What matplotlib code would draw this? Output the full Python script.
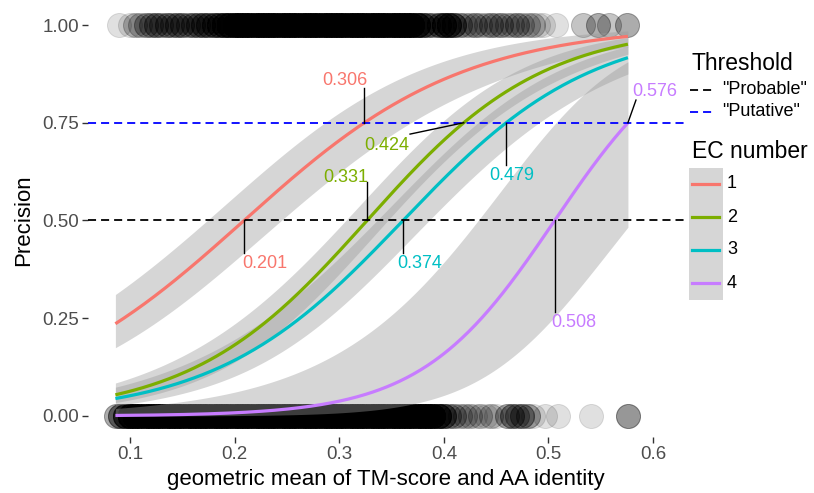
import numpy as np
import matplotlib
matplotlib.use("Agg")
import matplotlib.pyplot as plt
from matplotlib.lines import Line2D
from matplotlib.patches import Rectangle

plt.rcParams['font.family'] = ['Liberation Sans', 'DejaVu Sans']
plt.rcParams['lines.scale_dashes'] = False

# ---------------- data ----------------
ec_labels = ['1', '2', '3', '4']
ec_colors = ['#F8766D', '#7CAE00', '#00BFC4', '#C77CFF']
ec_x50 = [0.209, 0.3266, 0.361, 0.506]     # x where fitted precision = 0.50
ec_x75 = [0.324, 0.419, 0.4596, 0.576]     # x where fitted precision = 0.75
ec_se_min = [0.17, 0.12, 0.14, 0.55]       # logit-scale standard error (minimum)
ec_se_center = [0.20, 0.34, 0.36, 0.50]
ec_se_slope = [0.80, 0.83, 0.85, 3.00]
x_start = 0.086
x_end = 0.576

thresholds = [0.5, 0.75]
threshold_names = ['"Probable"', '"Putative"']
threshold_colors = ['black', 'blue']

# observations at precision 1 (x position, multiplicity)
top_pos = [0.089, 0.100, 0.105, 0.110, 0.115, 0.120, 0.125, 0.130, 0.135, 0.140,
           0.145, 0.150, 0.155, 0.160, 0.165, 0.170, 0.175, 0.180, 0.185, 0.190,
           0.195, 0.200, 0.205, 0.210, 0.215, 0.220, 0.225, 0.230, 0.235, 0.240,
           0.245, 0.250, 0.255, 0.260, 0.265, 0.270, 0.275, 0.280, 0.285, 0.290,
           0.295, 0.300, 0.305, 0.310, 0.315, 0.320, 0.325, 0.330, 0.335, 0.340,
           0.345, 0.350, 0.355, 0.360, 0.365, 0.370, 0.375, 0.380, 0.385, 0.390,
           0.395, 0.400, 0.405, 0.410, 0.415, 0.420, 0.425, 0.430, 0.435, 0.440,
           0.445, 0.450, 0.455, 0.460, 0.465, 0.470, 0.475, 0.480, 0.485, 0.490,
           0.495, 0.507, 0.533, 0.547, 0.558, 0.575]
top_cnt = [1, 1, 2, 2, 3, 3, 4, 3, 4, 3,
           4, 4, 3, 4, 4, 5, 5, 6, 6, 8,
           10, 12, 12, 12, 12, 12, 12, 12, 12, 12,
           12, 12, 12, 12, 12, 12, 12, 12, 12, 12,
           12, 12, 12, 12, 12, 12, 12, 12, 12, 12,
           12, 12, 12, 12, 12, 12, 10, 6, 4, 3,
           5, 8, 8, 6, 3, 2, 2, 3, 2, 2,
           3, 2, 3, 2, 2, 3, 2, 2, 2, 1,
           1, 1, 2, 3, 2, 3]

# observations at precision 0 (x position, multiplicity)
bot_pos = [0.087, 0.090, 0.095, 0.100, 0.105, 0.110, 0.115, 0.120, 0.125, 0.130,
           0.135, 0.140, 0.145, 0.150, 0.155, 0.160, 0.165, 0.170, 0.175, 0.180,
           0.185, 0.190, 0.195, 0.200, 0.205, 0.210, 0.215, 0.220, 0.225, 0.230,
           0.235, 0.240, 0.245, 0.250, 0.255, 0.260, 0.265, 0.270, 0.275, 0.280,
           0.285, 0.290, 0.295, 0.300, 0.305, 0.310, 0.315, 0.320, 0.325, 0.330,
           0.335, 0.340, 0.345, 0.350, 0.355, 0.360, 0.365, 0.370, 0.375, 0.380,
           0.385, 0.390, 0.395, 0.400, 0.405, 0.410, 0.415, 0.420, 0.425, 0.430,
           0.435, 0.440, 0.445, 0.450, 0.460, 0.465, 0.470, 0.475, 0.480, 0.485,
           0.497, 0.509, 0.541, 0.576]
bot_cnt = [3, 5, 8, 12, 12, 12, 12, 12, 12, 12,
           12, 12, 12, 12, 12, 12, 12, 12, 12, 12,
           12, 12, 12, 12, 12, 12, 12, 12, 12, 12,
           12, 12, 12, 12, 12, 12, 12, 12, 12, 12,
           12, 12, 12, 12, 12, 12, 12, 12, 12, 12,
           12, 12, 12, 12, 12, 12, 12, 12, 12, 12,
           12, 12, 10, 6, 3, 3, 2, 2, 2, 1,
           2, 1, 2, 1, 3, 4, 3, 4, 3, 1,
           1, 1, 1, 4]

# annotation labels
lab_text = ['0.201', '0.306', '0.331', '0.424', '0.374', '0.479', '0.508', '0.576']
lab_ec = [0, 0, 1, 1, 2, 2, 3, 3]
lab_level = [0.5, 0.75, 0.5, 0.75, 0.5, 0.75, 0.5, 0.75]
lab_x = [0.229, 0.3055, 0.3065, 0.3457, 0.377, 0.465, 0.5245, 0.602]
lab_y = [0.389, 0.859, 0.609, 0.693, 0.391, 0.616, 0.238, 0.829]
seg_end_x = [0.209, 0.324, 0.3266, 0.3677, 0.361, 0.4596, 0.506, 0.5837]
seg_end_y = [0.417, 0.839, 0.598, 0.721, 0.417, 0.642, 0.266, 0.808]

# ---------------- figure ----------------
W, H = 814, 493
fig = plt.figure(figsize=(W / 100, H / 100), dpi=100)
ax_l, ax_r, ax_t, ax_b = 88.2, 684.4, 3.9, 437.1
ax = fig.add_axes([ax_l / W, 1 - ax_b / H, (ax_r - ax_l) / W, (ax_b - ax_t) / H])
ax.set_xlim(0.06, 0.63)
ax.set_ylim(-0.054, 1.054)

# points
alpha_pt = 0.12
for pos, cnt, yv in ((top_pos, top_cnt, 1.0), (bot_pos, bot_cnt, 0.0)):
    xs = np.repeat(pos, cnt)
    ax.scatter(xs, np.full(len(xs), yv), s=300, facecolor=(0, 0, 0, alpha_pt),
               edgecolor=(0, 0, 0, alpha_pt), linewidth=0.7, zorder=1)

# fitted logistic curves with confidence bands
xx = np.linspace(x_start, x_end, 300)
def expit(z):
    return 1 / (1 + np.exp(-z))
curves = []
for i in range(4):
    b = np.log(3) / (ec_x75[i] - ec_x50[i])
    eta = b * (xx - ec_x50[i])
    se = np.sqrt(ec_se_min[i] ** 2 + ec_se_slope[i] ** 2 * (xx - ec_se_center[i]) ** 2)
    ax.fill_between(xx, expit(eta - 1.96 * se), expit(eta + 1.96 * se),
                    color='#999999', alpha=0.4, linewidth=0, zorder=2)
    curves.append(expit(eta))
for i in range(4):
    ax.plot(xx, curves[i], color=ec_colors[i], lw=2.3, zorder=3, solid_capstyle='butt')

# thresholds
for t, c in zip(thresholds, threshold_colors):
    ax.axhline(t, color=c, lw=1.3, dashes=(5.8, 3.6), zorder=4)

# annotations
for i in range(len(lab_text)):
    e = lab_ec[i]
    x0 = ec_x50[e] if lab_level[i] == 0.5 else ec_x75[e]
    ax.plot([x0, seg_end_x[i]], [lab_level[i], seg_end_y[i]], color='black', lw=1.0, zorder=5)
    ax.text(lab_x[i], lab_y[i], lab_text[i], color=ec_colors[e], fontsize=13,
            ha='center', va='center', zorder=6, clip_on=False)

# axes styling
for s in ax.spines.values():
    s.set_visible(False)
ax.set_xticks([0.1, 0.2, 0.3, 0.4, 0.5, 0.6])
ax.set_xticklabels(['0.1', '0.2', '0.3', '0.4', '0.5', '0.6'])
ax.set_yticks([0.0, 0.25, 0.5, 0.75, 1.0])
ax.set_yticklabels(['0.00', '0.25', '0.50', '0.75', '1.00'])
ax.tick_params(axis='both', length=4, width=1.0, color='#333333', labelcolor='#4D4D4D',
               labelsize=13.5, pad=2.5)
ax.set_xlabel('geometric mean of TM-score and AA identity', fontsize=16, labelpad=4)
ax.set_ylabel('Precision', fontsize=16, labelpad=6)

# legend drawn in pixel coords
lg = fig.add_axes([0, 0, 1, 1], facecolor='none')
lg.set_xlim(0, W)
lg.set_ylim(H, 0)
lg.axis('off')
lg.text(692, 64, 'Threshold', fontsize=16.5, ha='left', va='center')
for j, (nm, c) in enumerate(zip(threshold_names, threshold_colors)):
    yk = 90 + j * 22
    lg.add_line(Line2D([690, 714], [yk, yk], color=c, lw=1.3, dashes=(5.8, 3.6)))
    lg.text(722, yk, nm, fontsize=13, ha='left', va='center')
lg.text(692, 151, 'EC number', fontsize=16.5, ha='left', va='center')
lg.add_patch(Rectangle((689, 168), 34, 132, facecolor='#D6D6D6', edgecolor='none'))
for j in range(4):
    yk = 184 + j * 33
    lg.add_line(Line2D([692, 719], [yk, yk], color=ec_colors[j], lw=2.3))
    lg.text(727, yk, ec_labels[j], fontsize=13, ha='left', va='center')

fig.savefig('out.png', dpi=100)
